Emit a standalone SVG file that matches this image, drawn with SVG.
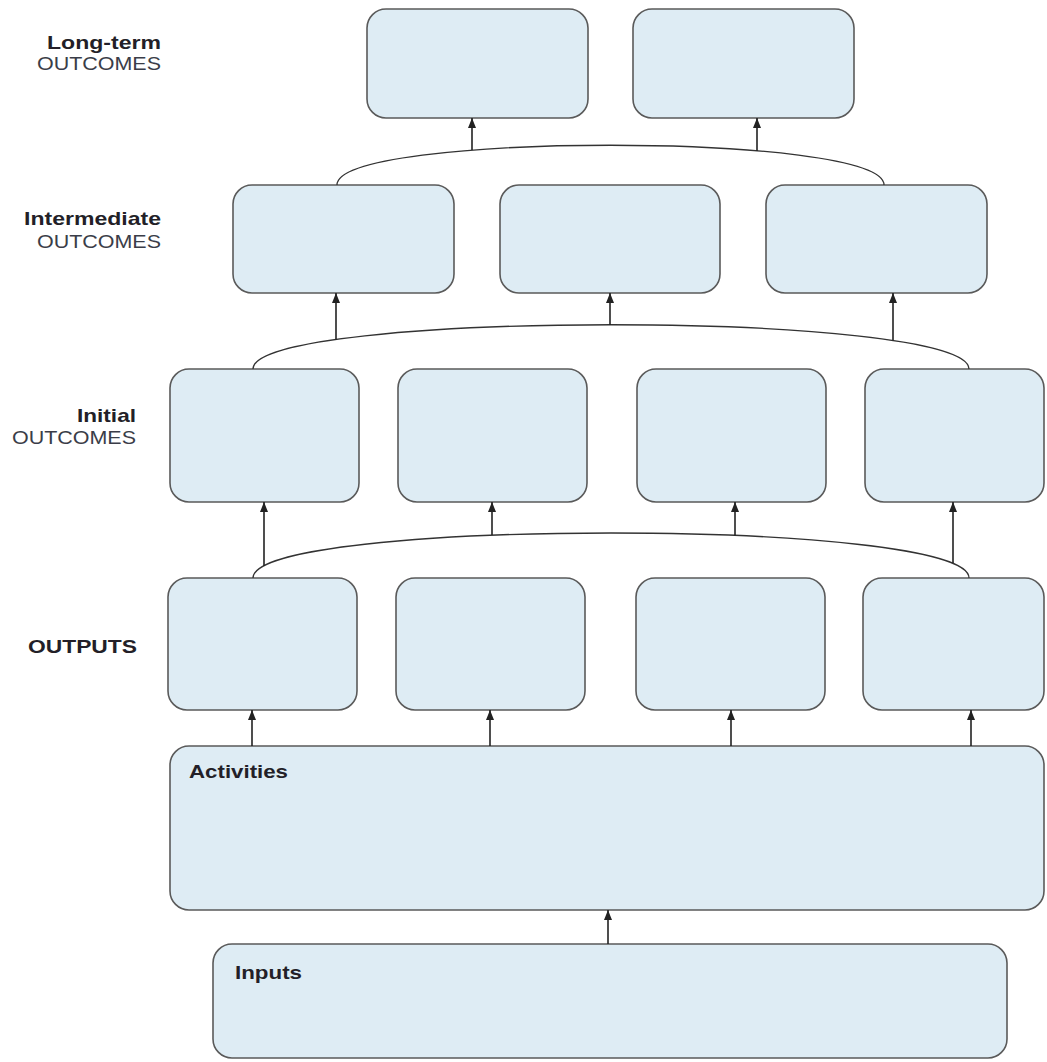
<svg xmlns="http://www.w3.org/2000/svg" width="1047" height="1062" viewBox="0 0 1047 1062">
  <style>
    .box { fill: #deecf4; stroke: #5a5a5a; stroke-width: 1.6; }
    .lvl { font-family: "Liberation Sans", Arial, sans-serif; font-size: 19px; fill: #2a2830; }
    .b { font-weight: bold; fill: #231f28; }
    .sub { fill: #3a3d48; }
    .link { fill: none; stroke: #222; stroke-width: 1.6; }
    .arc { fill: none; stroke: #333; stroke-width: 1.3; }
  </style>
  <defs>
    <marker id="head" viewBox="0 0 10 8" refX="10" refY="4" markerWidth="10" markerHeight="8" markerUnits="userSpaceOnUse" orient="auto">
      <path d="M0,0 L10,4 L0,8 z" fill="#222"/>
    </marker>
  </defs>

  <rect width="1047" height="1062" fill="#ffffff"/>

  <!-- level labels -->
  <g id="label-longterm" class="lvl" text-anchor="end">
    <text class="b" x="161" y="49" textLength="114" lengthAdjust="spacingAndGlyphs">Long-term</text>
    <text class="sub" x="161" y="70" textLength="124" lengthAdjust="spacingAndGlyphs">OUTCOMES</text>
  </g>
  <g id="label-intermediate" class="lvl" text-anchor="end">
    <text class="b" x="161" y="225" textLength="137" lengthAdjust="spacingAndGlyphs">Intermediate</text>
    <text class="sub" x="161" y="248" textLength="124" lengthAdjust="spacingAndGlyphs">OUTCOMES</text>
  </g>
  <g id="label-initial" class="lvl" text-anchor="end">
    <text class="b" x="136" y="422" textLength="59" lengthAdjust="spacingAndGlyphs">Initial</text>
    <text class="sub" x="136" y="444" textLength="124" lengthAdjust="spacingAndGlyphs">OUTCOMES</text>
  </g>
  <g id="label-outputs" class="lvl" text-anchor="end">
    <text class="b" x="137" y="653" textLength="109" lengthAdjust="spacingAndGlyphs">OUTPUTS</text>
  </g>

  <!-- long-term outcomes -->
  <g id="longterm-1"><rect class="box" x="367" y="9" width="221" height="109" rx="19"/></g>
  <g id="longterm-2"><rect class="box" x="633" y="9" width="221" height="109" rx="19"/></g>

  <!-- intermediate outcomes -->
  <g id="intermediate-1"><rect class="box" x="233" y="185" width="221" height="108" rx="19"/></g>
  <g id="intermediate-2"><rect class="box" x="500" y="185" width="220" height="108" rx="19"/></g>
  <g id="intermediate-3"><rect class="box" x="766" y="185" width="221" height="108" rx="19"/></g>

  <!-- initial outcomes -->
  <g id="initial-1"><rect class="box" x="170" y="369" width="189" height="133" rx="19"/></g>
  <g id="initial-2"><rect class="box" x="398" y="369" width="189" height="133" rx="19"/></g>
  <g id="initial-3"><rect class="box" x="637" y="369" width="189" height="133" rx="19"/></g>
  <g id="initial-4"><rect class="box" x="865" y="369" width="179" height="133" rx="19"/></g>

  <!-- outputs -->
  <g id="output-1"><rect class="box" x="168" y="578" width="189" height="132" rx="19"/></g>
  <g id="output-2"><rect class="box" x="396" y="578" width="189" height="132" rx="19"/></g>
  <g id="output-3"><rect class="box" x="636" y="578" width="189" height="132" rx="19"/></g>
  <g id="output-4"><rect class="box" x="863" y="578" width="181" height="132" rx="19"/></g>

  <!-- activities -->
  <g id="activities">
    <rect class="box" x="170" y="746" width="874" height="164" rx="19"/>
    <text class="lvl b" x="189" y="778" textLength="99" lengthAdjust="spacingAndGlyphs">Activities</text>
  </g>

  <!-- inputs -->
  <g id="inputs">
    <rect class="box" x="213" y="944" width="794" height="114" rx="19"/>
    <text class="lvl b" x="235" y="979" textLength="67" lengthAdjust="spacingAndGlyphs">Inputs</text>
  </g>

  <!-- connectors -->
  <g id="connectors">
    <!-- inputs to activities -->
    <path class="link" d="M608,944 V910" marker-end="url(#head)"/>
    <!-- activities to outputs -->
    <path class="link" d="M252,746 V710" marker-end="url(#head)"/>
    <path class="link" d="M490,746 V710" marker-end="url(#head)"/>
    <path class="link" d="M731,746 V710" marker-end="url(#head)"/>
    <path class="link" d="M971,746 V710" marker-end="url(#head)"/>
    <!-- outputs to initial outcomes -->
    <path class="arc" d="M253,578 C253,518 969,518 969,578"/>
    <path class="link" d="M264,566 V502" marker-end="url(#head)"/>
    <path class="link" d="M492,535 V502" marker-end="url(#head)"/>
    <path class="link" d="M735,535.5 V502" marker-end="url(#head)"/>
    <path class="link" d="M953,563 V502" marker-end="url(#head)"/>
    <!-- initial to intermediate outcomes -->
    <path class="arc" d="M253,369 C253,310 969,310 969,369"/>
    <path class="link" d="M336,339.5 V293" marker-end="url(#head)"/>
    <path class="link" d="M610,325 V293" marker-end="url(#head)"/>
    <path class="link" d="M893,340.5 V293" marker-end="url(#head)"/>
    <!-- intermediate to long-term outcomes -->
    <path class="arc" d="M337,185 C337,132 884,132 884,185"/>
    <path class="link" d="M472,150 V118" marker-end="url(#head)"/>
    <path class="link" d="M757,151 V118" marker-end="url(#head)"/>
  </g>
</svg>
